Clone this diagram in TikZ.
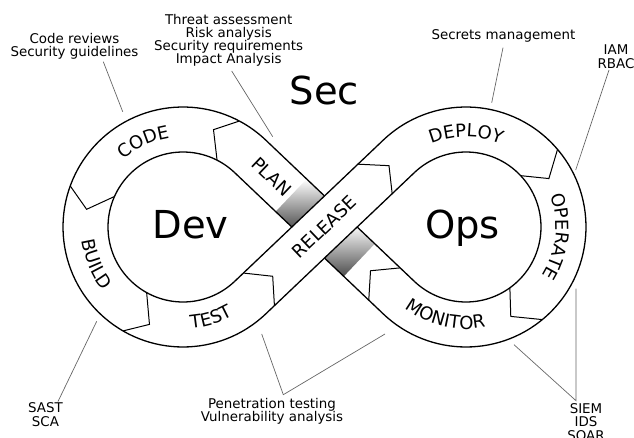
\documentclass[tikz,border=0pt]{standalone}
\usepackage{fontspec}
\setmainfont{DejaVu Sans}
\usetikzlibrary{decorations.text}
\newcommand\segfont{\fontsize{18}{18}\selectfont}
\begin{document}
\begin{tikzpicture}[x=1pt,y=1pt,
  outline/.style={line width=1.3pt, black},
  divider/.style={line width=1pt, black, line join=miter},
  leader/.style={line width=0.7pt, black!60},
  note/.style={font={\fontsize{13.4}{13.3}\selectfont\lineskiplimit=-20pt}, align=center, inner sep=0pt, anchor=base},
  seglabel/.style={font=\segfont, inner sep=0pt},
  big/.style={font=\fontsize{38.5}{38.5}\selectfont, inner sep=0pt, anchor=base},
  arctext/.style={decorate, decoration={text along path, text align=center, text={|\segfont|#1}}},
]
\useasboundingbox (0,0) rectangle (634,-438);
\coordinate (L) at (183,-227);
\coordinate (R) at (466,-227);
\coordinate (M) at (324.5,-227);

% shadow under the PLAN--MONITOR strip
\begin{scope}[shift={(M)}, rotate=-43.56]
  \shade[bottom color=black!70, top color=white] (-46,-22.5) rectangle (-20,22.5);
  \shade[bottom color=black!70, top color=white] (20,-22.5) rectangle (48,22.5);
\end{scope}

% loops
\draw[outline] ([shift={(L)}]46.44:120) arc[start angle=46.44, end angle=313.56, radius=120];
\draw[outline] ([shift={(L)}]46.44:75) arc[start angle=46.44, end angle=313.56, radius=75];
\draw[outline] ([shift={(R)}]133.56:120) arc[start angle=133.56, end angle=-133.56, radius=120];
\draw[outline] ([shift={(R)}]133.56:75) arc[start angle=133.56, end angle=-133.56, radius=75];

% strip 1 (PLAN -> MONITOR), underneath
\draw[outline] ([shift={(L)}]46.44:120) -- ([shift={(R)}]-133.56:75);
\draw[outline] ([shift={(L)}]46.44:75) -- ([shift={(R)}]-133.56:120);

% strip 2 (TEST -> DEPLOY), on top
\begin{scope}[shift={(M)}, rotate=43.56]
  \fill[white] (-30,-22.5) rectangle (30,22.5);
\end{scope}
\draw[outline] ([shift={(L)}]-46.44:75) -- ([shift={(R)}]133.56:120);
\draw[outline] ([shift={(L)}]-46.44:120) -- ([shift={(R)}]133.56:75);

% dividers on the left loop
\draw[divider] ([shift={(L)}]62:120) -- ([shift={(L)}]72.6:102) -- ([shift={(L)}]63:75);
\draw[divider] ([shift={(L)}]160:120) -- ([shift={(L)}]169.6:98) -- ([shift={(L)}]156:75);
\draw[divider] ([shift={(L)}]240:120) -- ([shift={(L)}]251:103) -- ([shift={(L)}]241:75);
% dividers on the right loop
\draw[divider] ([shift={(R)}]40.3:120) -- ([shift={(R)}]30.3:96) -- ([shift={(R)}]43.2:75);
\draw[divider] ([shift={(R)}]-50.5:120) -- ([shift={(R)}]-63.4:100) -- ([shift={(R)}]-54.2:75);
% dividers on the strips
\begin{scope}[shift={(M)}, rotate=43.56]
  \draw[divider] (-90.5,22.5) -- (-71.5,0) -- (-90.5,-22.5);
  \draw[divider] (67.5,22.5) -- (89,0) -- (72,-22.5);
\end{scope}
\begin{scope}[shift={(M)}, rotate=-43.56]
  \draw[divider] (82.5,-22.5) -- (63.5,0) -- (83,22.5);
\end{scope}

% segment labels
\path[arctext=CODE] ([shift={(L)}]150:90) arc[start angle=150, end angle=80, radius=90];
\path[arctext=BUILD] ([shift={(L)}]165:102) arc[start angle=165, end angle=241, radius=102];
\path[arctext=TEST] ([shift={(L)}]252:102) arc[start angle=252, end angle=322, radius=102];
\path[arctext=DEPLOY] ([shift={(R)}]130:90) arc[start angle=130, end angle=50, radius=90];
\path[arctext=OPERATE] ([shift={(R)}]40:90) arc[start angle=40, end angle=-52, radius=90];
\path[arctext=MONITOR] ([shift={(R)}]-150:102) arc[start angle=-150, end angle=-56, radius=102];
\node[seglabel, rotate=-43.56] (plan) at ([shift={(M)}]136.44:73) {PLAN};
\node[seglabel, rotate=43.56] (release) at (M) {RELEASE};

% big words
\node[big] (sec) at (324.2,-104.5) {Sec};
\node[big] (dev) at (190.5,-238.5) {Dev};
\node[big] (ops) at (462.5,-238.5) {Ops};

% notes (anchored at the baseline of their last line)
\node[note] (codenote) at (74.5,-56.7) {Code reviews\\Security guidelines};
\node[note] (plannote) at (228.7,-64) {Threat assessment\\Risk analysis\\Security requirements\\Impact Analysis};
\node[note] (deploynote) at (503.5,-39.3) {Secrets management};
\node[note] (opnote) at (616,-68.3) {IAM\\RBAC};
\node[note] (buildnote) at (45.5,-426) {SAST\\SCA};
\node[note] (testnote) at (272,-421.3) {Penetration testing\\Vulnerability analysis};
\node[note] (monnote) at (586,-440) {SIEM\\IDS\\SOAR};

% leader lines
\coordinate (codeA) at (103.3,-61.7);   \coordinate (codeB) at (122.7,-111.7);
\coordinate (planA) at (231.7,-71);     \coordinate (planB) at (272.7,-136.7);
\coordinate (depA) at (503,-47.7);      \coordinate (depB) at (491.7,-102.7);
\coordinate (opA) at (609,-70);         \coordinate (opB) at (575.7,-170);
\coordinate (bldA) at (58,-401.5);      \coordinate (bldB) at (96.7,-321.3);
\coordinate (tstA) at (283.3,-394.7);   \coordinate (tstB) at (261.7,-334); \coordinate (tstC) at (385,-334);
\coordinate (monA) at (576,-400.7);     \coordinate (monB) at (514,-344.7); \coordinate (monC) at (576,-288.7);
\draw[leader] (codeA) -- (codeB);
\draw[leader] (planA) -- (planB);
\draw[leader] (depA) -- (depB);
\draw[leader] (opA) -- (opB);
\draw[leader] (bldA) -- (bldB);
\draw[leader] (tstB) -- (tstA) -- (tstC);
\draw[leader] (monB) -- (monA) -- (monC);
\end{tikzpicture}
\end{document}
